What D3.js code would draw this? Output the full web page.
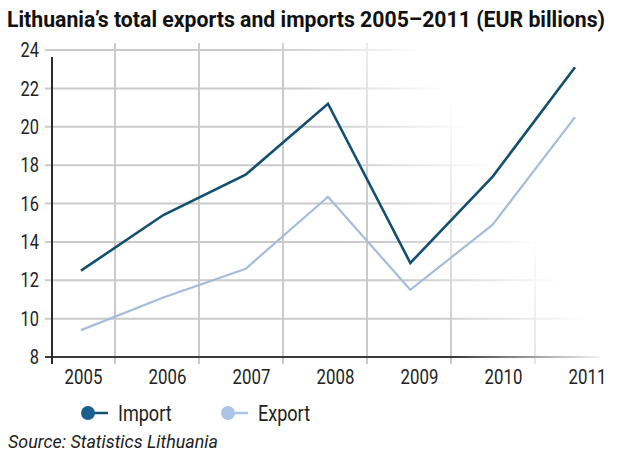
<!DOCTYPE html>
<html><head><meta charset="utf-8">
<script src="https://cdn.jsdelivr.net/npm/d3@7"></script>
<style>
html,body{margin:0;padding:0;background:#fff;}
svg{display:block;}
text{font-family:Roboto,"Liberation Sans",sans-serif;}
</style></head>
<body><svg id="c" width="623" height="466"></svg>
<script>
const years = ["2005","2006","2007","2008","2009","2010","2011"];
const importValues = [12.5, 15.4, 17.5, 21.2, 12.9, 17.4, 23.1];
const exportValues = [9.4, 11.1, 12.6, 16.35, 11.5, 14.9, 20.5];
const yTicks = [8, 10, 12, 14, 16, 18, 20, 22, 24];
const seriesNames = ["Import", "Export"];
const seriesColors = ["#134f6f", "#a4bddb"];
const markerColors = ["#1b5f8f", "#a9c4e4"];
const titleText = "Lithuania\u2019s total exports and imports 2005\u20132011 (EUR billions)";
const sourceText = "Source: Statistics Lithuania";

const svg = d3.select("#c");
const defs = svg.append("defs");

function condense(sel, k){
  sel.each(function(){
    const w = this.getComputedTextLength();
    d3.select(this).attr("textLength", w*k).attr("lengthAdjust","spacingAndGlyphs");
  });
}

// fade of the grid towards the upper right
const grad = defs.append("linearGradient").attr("id","fade")
  .attr("gradientUnits","userSpaceOnUse")
  .attr("x1",330).attr("y1",155).attr("x2",445).attr("y2",85);
grad.append("stop").attr("offset",0).attr("stop-color","#fff").attr("stop-opacity",1);
grad.append("stop").attr("offset",1).attr("stop-color","#fff").attr("stop-opacity",0);
const mask = defs.append("mask").attr("id","fm").attr("maskUnits","userSpaceOnUse")
  .attr("x",0).attr("y",0).attr("width",623).attr("height",466);
mask.append("rect").attr("x",0).attr("y",0).attr("width",623).attr("height",466).attr("fill","url(#fade)");

const y = d3.scaleLinear().domain([8,24]).range([357,50]);
const xAxisScale = d3.scalePoint().domain(years).range([83,587]);
const xData = d3.scalePoint().domain(years).range([81,575]);
const gridOffset = 32;

// grid
const grid = svg.append("g").attr("mask","url(#fm)");
grid.selectAll("line.h").data(yTicks.slice(1)).join("line")
  .attr("x1",45).attr("x2",600)
  .attr("y1",d=>y(d)).attr("y2",d=>y(d))
  .attr("stroke","#cacaca").attr("stroke-width",2);
grid.selectAll("line.v").data(years.slice(0,-1)).join("line")
  .attr("x1",d=>xAxisScale(d)+gridOffset).attr("x2",d=>xAxisScale(d)+gridOffset)
  .attr("y1",43).attr("y2",364)
  .attr("stroke","#cacaca").attr("stroke-width",2);
// x axis line
grid.append("line").attr("x1",45).attr("x2",600)
  .attr("y1",y(8)).attr("y2",y(8)).attr("stroke","#3a3a3a").attr("stroke-width",2);
// y axis line
svg.append("line").attr("x1",52).attr("x2",52).attr("y1",57).attr("y2",364)
  .attr("stroke","#2a2a2a").attr("stroke-width",2);

// axes labels via d3 axes
const yAxis = svg.append("g").attr("transform","translate(39,0)")
  .call(d3.axisLeft(y).tickValues(yTicks).tickSize(0).tickPadding(0));
yAxis.select(".domain").remove();
yAxis.selectAll("text").attr("font-size",21).attr("fill","#222")
  .style("font-family","Roboto,sans-serif");
condense(yAxis.selectAll("text"), 0.78);

const xAxis = svg.append("g").attr("transform","translate(0,365)")
  .call(d3.axisBottom(xAxisScale).tickSize(0).tickPadding(4));
xAxis.select(".domain").remove();
xAxis.selectAll("text").attr("font-size",21).attr("fill","#222")
  .style("font-family","Roboto,sans-serif");
condense(xAxis.selectAll("text"), 0.8);

// lines
const line = d3.line().x((d,i)=>xData(years[i])).y(d=>y(d));
svg.append("path").datum(exportValues).attr("d",line)
  .attr("fill","none").attr("stroke",seriesColors[1]).attr("stroke-width",2.2)
  .attr("stroke-linejoin","miter");
svg.append("path").datum(importValues).attr("d",line)
  .attr("fill","none").attr("stroke",seriesColors[0]).attr("stroke-width",2.6)
  .attr("stroke-linejoin","miter");

// title
const title = svg.append("text").attr("x",7).attr("y",27)
  .attr("font-weight","bold").attr("font-size",23).attr("fill","#111")
  .text(titleText);
const tw = title.node().getComputedTextLength();
if (tw > 600) title.attr("font-size", 23*600/tw);
title.attr("textLength",598).attr("lengthAdjust","spacingAndGlyphs");

// legend
const legendX = [88, 228];
seriesNames.forEach((n,i)=>{
  const g = svg.append("g").attr("transform",`translate(${legendX[i]},413)`);
  g.append("line").attr("x1",0).attr("x2",20).attr("y1",0).attr("y2",0)
    .attr("stroke",i===0?"#174f72":"#a9c4e4").attr("stroke-width",2.5);
  g.append("circle").attr("cx",0).attr("cy",0).attr("r",7).attr("fill",markerColors[i]);
  const t = g.append("text").attr("x",30).attr("y",8).attr("font-size",22).attr("fill","#222").text(n);
  condense(t, 0.82);
});

// source
const src = svg.append("text").attr("x",8).attr("y",448).attr("font-size",18)
  .attr("font-style","italic").attr("fill","#222").text(sourceText);
src.attr("textLength",210).attr("lengthAdjust","spacingAndGlyphs");
</script></body></html>
